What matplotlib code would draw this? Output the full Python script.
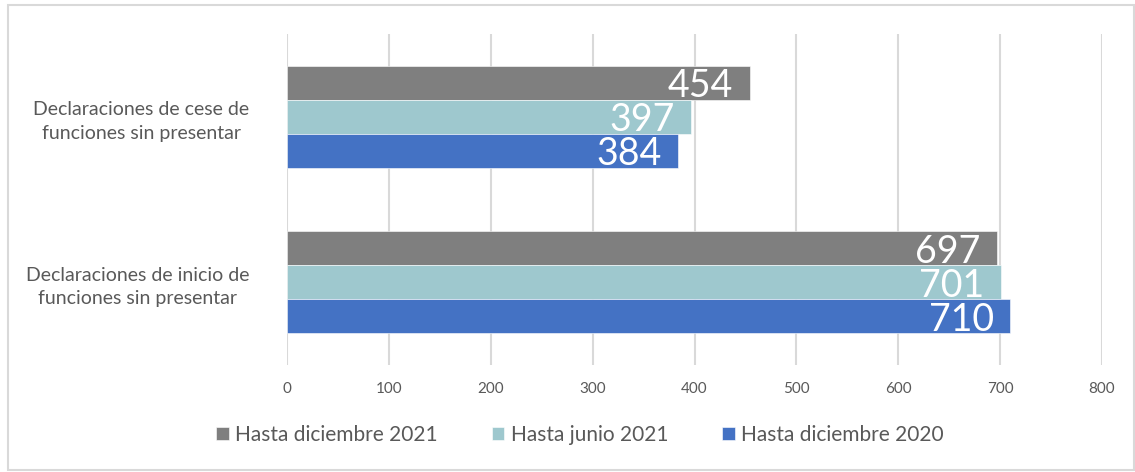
import matplotlib
matplotlib.use("Agg")
import matplotlib.pyplot as plt
from matplotlib.patches import Rectangle
import numpy as np

categories = ["Declaraciones de cese de\nfunciones sin presentar",
              "Declaraciones de inicio de\nfunciones sin presentar"]
series_names = ["Hasta diciembre 2021", "Hasta junio 2021", "Hasta diciembre 2020"]
dic_2021 = [454, 697]
jun_2021 = [397, 701]
dic_2020 = [384, 710]
xticks = [0, 100, 200, 300, 400, 500, 600, 700, 800]

colors = ["#7f7f7f", "#9ec8ce", "#4472c4"]
plt.rcParams['font.family'] = ['Lato', 'DejaVu Sans']

W, H = 1135, 472
fig = plt.figure(figsize=(W / 100, H / 100), dpi=100)
ax = fig.add_axes([287 / W, 1 - 365 / H, (1102 - 287) / W, (365 - 34) / H])

# outer border
fig.patches.append(Rectangle((8 / W, 1 - 470 / H), (1134 - 8) / W, (470 - 5) / H,
                             transform=fig.transFigure, fill=False,
                             edgecolor="#d9d9d9", linewidth=1.5))

y = np.arange(len(categories))
h = 0.206
data = [dic_2021, jun_2021, dic_2020]
offsets = [-h, 0, h]
for vals, off, c, name in zip(data, offsets, colors, series_names):
    bars = ax.barh(y + off, vals, height=h, color=c, label=name,
                   edgecolor="white", linewidth=0.4, zorder=3)
    for b, v in zip(bars, vals):
        ax.annotate(str(v), xy=(v, b.get_y() + b.get_height() / 2),
                    xytext=(-12, 0), textcoords="offset points",
                    ha="right", va="center_baseline", color="white",
                    fontsize=27, zorder=4)

ax.set_xlim(0, 800)
ax.set_ylim(1.5, -0.5)
ax.set_xticks(xticks)
ax.set_xticklabels([str(t) for t in xticks], fontsize=11, color="#595959")
ax.set_yticks(y)
ax.set_yticklabels(categories, fontsize=14, color="#595959",
                   multialignment="center", linespacing=1.45)
ax.tick_params(axis="both", length=0)
ax.tick_params(axis="x", pad=12)
ax.tick_params(axis="y", pad=27)
ax.xaxis.grid(True, color="#d9d9d9", linewidth=1.5, zorder=0)
ax.set_axisbelow(True)
for s in ax.spines.values():
    s.set_visible(False)

fig.legend(loc="center", bbox_to_anchor=(580 / W, 1 - 435 / H), ncol=3,
           frameon=False, fontsize=15, labelcolor="#595959",
           handlelength=0.6, handleheight=0.6, handletextpad=0.3,
           columnspacing=2.6)

fig.savefig("out.png", dpi=100)
